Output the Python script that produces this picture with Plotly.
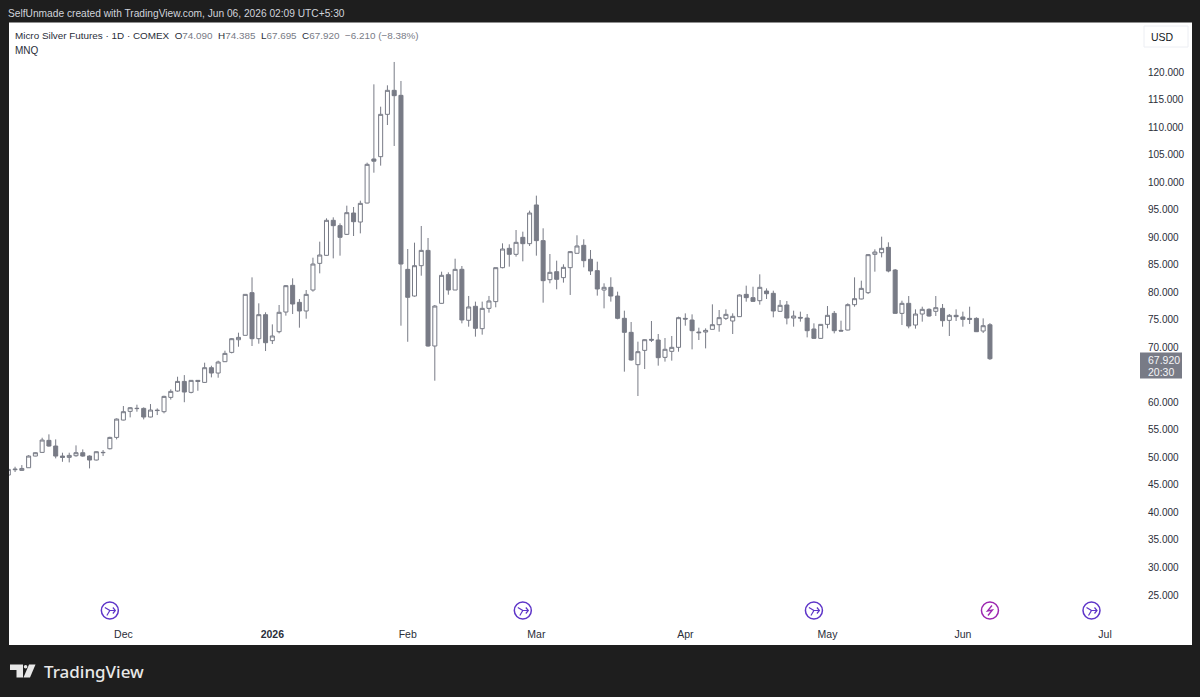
import plotly.graph_objects as go

opens = [46.79, 47.76, 47.64, 48.12, 50.24, 50.91, 53.09, 52.06, 50.24, 50.00, 50.30, 50.85, 50.24, 49.52, 50.85,
         51.57, 53.63, 56.78, 58.36, 58.86, 58.90, 57.33, 58.50, 58.30, 60.90, 62.05, 63.80, 61.81, 63.99, 63.62,
         66.29, 65.32, 67.38, 69.07, 71.37, 72.17, 79.92, 71.56, 75.92, 71.20, 72.83, 76.40, 81.25, 78.16, 76.59,
         80.40, 85.24, 86.70, 93.06, 92.09, 90.51, 94.39, 92.75, 96.20, 104.20, 104.62, 112.31, 116.67, 115.76, 84.15,
         79.31, 84.82, 87.60, 70.23, 77.98, 83.19, 80.40, 84.16, 74.90, 77.44, 73.38, 77.07, 78.29, 84.46, 87.97,
         86.88, 89.97, 88.82, 95.85, 89.37, 82.28, 83.73, 82.65, 84.46, 87.07, 88.52, 85.98, 83.92, 80.40, 80.89,
         79.31, 75.26, 72.71, 66.84, 69.44, 71.44, 71.32, 68.17, 69.26, 69.99, 75.25, 74.95, 72.77, 72.77, 73.26,
         74.10, 75.25, 74.77, 75.56, 79.61, 79.01, 78.46, 80.22, 79.80, 76.53, 77.68, 75.31, 75.43, 75.31, 73.32,
         71.62, 74.16, 76.16, 73.07, 73.13, 77.74, 78.77, 79.92, 86.88, 87.18, 88.15, 84.03, 76.16, 77.98, 74.04,
         76.04, 76.89, 76.53, 77.07, 74.89, 75.80, 75.50, 75.25, 75.25, 72.95, 74.09]
highs = [48.00, 48.30, 48.60, 50.40, 50.90, 53.57, 54.18, 53.27, 50.85, 50.85, 52.18, 51.45, 50.36, 51.09, 51.33,
         53.75, 57.08, 59.33, 59.14, 59.57, 59.08, 59.69, 58.90, 61.20, 62.35, 64.65, 64.95, 64.05, 64.05, 67.20,
         66.65, 67.56, 69.38, 71.68, 72.65, 79.61, 82.70, 77.98, 76.35, 74.16, 77.68, 81.31, 82.52, 78.77, 80.40,
         86.27, 89.18, 93.42, 93.60, 92.51, 95.72, 95.48, 96.63, 103.53, 117.76, 113.70, 117.58, 121.82, 118.37, 87.85,
         89.00, 92.03, 89.85, 77.68, 83.73, 83.61, 86.09, 84.76, 79.32, 78.29, 78.29, 79.32, 84.46, 88.88, 88.70,
         91.30, 91.00, 94.82, 97.54, 91.61, 86.94, 85.73, 85.07, 87.49, 90.34, 89.61, 87.67, 85.55, 81.62, 82.71,
         80.10, 76.65, 74.59, 71.02, 71.44, 74.77, 72.41, 71.68, 72.05, 75.56, 76.16, 75.98, 73.56, 73.44, 77.80,
         76.77, 76.89, 76.16, 79.61, 81.19, 81.00, 83.25, 80.70, 80.28, 78.58, 78.40, 76.65, 76.47, 76.04, 74.35,
         74.16, 77.49, 76.59, 74.83, 77.98, 82.70, 82.10, 86.94, 87.79, 90.09, 89.06, 84.22, 78.46, 79.31, 76.89,
         77.37, 77.07, 79.31, 77.86, 76.04, 76.89, 76.47, 77.37, 75.44, 75.25, 74.385]
lows = [46.50, 47.34, 47.60, 48.10, 50.20, 50.85, 51.94, 49.82, 49.20, 49.09, 50.12, 50.12, 48.00, 49.45, 50.24,
        51.45, 53.27, 56.72, 57.27, 58.30, 56.90, 57.27, 57.69, 58.00, 60.50, 61.93, 60.02, 61.63, 62.10, 63.56,
        64.53, 64.47, 67.32, 68.89, 70.10, 72.17, 70.23, 70.65, 69.32, 70.59, 72.53, 75.74, 76.04, 73.56, 75.19,
        80.10, 83.43, 86.64, 86.15, 86.64, 90.39, 90.21, 90.69, 96.14, 101.71, 102.99, 110.37, 106.56, 73.92, 71.00,
        79.19, 83.00, 70.11, 63.93, 77.92, 79.55, 80.40, 74.35, 73.74, 71.93, 72.29, 76.29, 77.26, 84.34, 84.64,
        86.46, 85.61, 88.40, 86.64, 78.10, 81.62, 80.53, 81.74, 79.50, 87.07, 84.52, 83.13, 79.38, 77.07, 78.29,
        75.08, 65.57, 67.57, 61.15, 66.05, 70.96, 66.66, 67.39, 67.57, 69.20, 73.92, 69.62, 71.32, 69.80, 73.26,
        72.83, 74.95, 72.41, 75.56, 78.28, 78.22, 77.74, 78.77, 75.44, 76.47, 74.16, 73.74, 74.65, 71.80, 71.50,
        71.56, 73.44, 72.53, 72.89, 73.07, 77.37, 78.71, 79.67, 83.73, 86.33, 83.61, 76.10, 74.04, 73.44, 73.38,
        74.65, 75.56, 75.68, 73.74, 72.05, 74.77, 73.74, 74.22, 72.77, 72.59, 67.695]
closes = [47.82, 47.85, 47.99, 50.24, 50.85, 53.15, 52.06, 50.24, 50.00, 50.36, 50.85, 50.24, 49.52, 51.03, 50.90,
          53.63, 56.96, 58.30, 59.02, 58.90, 57.33, 58.60, 58.55, 61.08, 61.99, 63.80, 61.87, 63.99, 63.80, 66.29,
          65.32, 67.32, 68.89, 71.56, 71.80, 79.61, 71.56, 75.92, 70.83, 72.05, 76.35, 81.19, 77.86, 76.59, 79.61,
          85.12, 86.76, 93.06, 92.09, 89.97, 94.45, 92.81, 96.14, 103.23, 103.80, 112.31, 116.67, 115.70, 85.12, 79.07,
          84.82, 87.60, 70.23, 77.49, 83.07, 80.40, 84.15, 74.96, 77.32, 73.44, 77.07, 78.41, 84.46, 87.85, 86.88,
          89.06, 88.82, 94.39, 89.37, 82.10, 83.61, 82.34, 84.52, 87.37, 88.40, 85.73, 83.86, 80.59, 80.89, 79.31,
          75.26, 72.71, 67.69, 69.20, 71.38, 71.30, 68.11, 69.63, 69.99, 75.38, 75.13, 73.01, 72.65, 73.07, 74.10,
          75.38, 75.98, 75.62, 79.49, 79.01, 78.34, 80.89, 79.73, 76.59, 77.62, 75.31, 75.68, 75.31, 73.01, 71.62,
          74.16, 75.80, 73.01, 72.95, 77.74, 78.83, 80.70, 86.82, 87.30, 87.97, 83.85, 76.16, 77.98, 73.86, 76.04,
          76.89, 75.68, 77.19, 74.83, 75.80, 75.56, 75.07, 75.07, 72.83, 73.92, 67.92]
candle_idx = list(range(len(opens)))

month_idx = [17, 39, 59, 78, 100, 121, 141, 162]
month_labels = ["Dec", "<b>2026</b>", "Feb", "Mar", "Apr", "May", "Jun", "Jul"]
# 65.000 is hidden behind the last price tag in the original
price_ticks = [25, 30, 35, 40, 45, 50, 55, 60, 70, 75, 80, 85, 90, 95, 100, 105, 110, 115, 120]
split_idx = [15, 76, 119, 160]
dividend_idx = [145]

W, H = 1200, 697
PANE_L, PANE_R, PANE_T, PANE_B = 9, 1139, 23, 622
GRAY = "#787b86"
DARK = "#1e1e1e"
SPLIT = "#5e35c8"
FONT = "Liberation Sans"


def fx(px):
    return px / W


def fy(py):
    return 1 - py / H


fig = go.Figure(go.Candlestick(
    x=candle_idx, open=opens, high=highs, low=lows, close=closes,
    increasing=dict(line=dict(color=GRAY, width=1), fillcolor="#ffffff"),
    decreasing=dict(line=dict(color=GRAY, width=1), fillcolor=GRAY),
    whiskerwidth=0, hoverinfo="skip", showlegend=False,
))

shapes = [
    # white chart card on the dark page
    dict(type="rect", xref="paper", yref="paper", x0=fx(9), x1=fx(1192), y0=fy(645), y1=fy(22.5),
         fillcolor="#ffffff", line_width=0, layer="below"),
    # USD button
    dict(type="rect", xref="paper", yref="paper", x0=fx(1144), x1=fx(1188), y0=fy(47), y1=fy(26),
         fillcolor="#ffffff", line=dict(color="#eceef3", width=1)),
    # last price tag
    dict(type="rect", xref="paper", yref="paper", x0=fx(1140), x1=fx(1182), y0=fy(378.5), y1=fy(352.5),
         fillcolor=GRAY, line_width=0),
    # logo
    dict(type="path", xref="paper", yref="paper", fillcolor="#e8e8e8", line_width=0,
         path=f"M {fx(10)} {fy(664.5)} L {fx(23)} {fy(664.5)} L {fx(23)} {fy(677.5)} L {fx(16.5)} {fy(677.5)} "
              f"L {fx(16.5)} {fy(670)} L {fx(10)} {fy(670)} Z"),
    dict(type="circle", xref="paper", yref="paper", x0=fx(23.8), x1=fx(27.4), y0=fy(668.6), y1=fy(665),
         fillcolor="#e8e8e8", line_width=0),
    dict(type="path", xref="paper", yref="paper", fillcolor="#e8e8e8", line_width=0,
         path=f"M {fx(29)} {fy(664.5)} L {fx(35.5)} {fy(664.5)} L {fx(30)} {fy(677.5)} L {fx(23.5)} {fy(677.5)} Z"),
]

# event icons sit on the time scale, so they are anchored to candle indexes
for i in split_idx + dividend_idx:
    color = "#9c27b0" if i in dividend_idx else SPLIT
    common = dict(xref="x", xsizemode="pixel", xanchor=i, yref="paper", ysizemode="pixel", yanchor=fy(610.5))
    fig.add_shape(type="circle", x0=-8.5, x1=8.5, y0=-8.5, y1=8.5, line=dict(color=color, width=1.5), **common)
    if i in dividend_idx:
        fig.add_shape(type="path", path="M 2 5 L -2.5 -0.5 L 2.5 0.5 L -2 -5", line=dict(color=color, width=1.3), **common)
    else:
        fig.add_shape(type="path", path="M -5 3 L 0 0 L -3 -5 M 0 0 L 5.5 0 M 3 3 L 5.5 0 L 3 -3",
                      line=dict(color=color, width=1.2), **common)

annotations = [
    dict(x=fx(6), y=fy(13), text="SelfUnmade created with TradingView.com, Jun 06, 2026 02:09 UTC+5:30",
         font=dict(size=10.2, color="#d1d4dc")),
    dict(x=fx(13), y=fy(35.5),
         text=f"Micro Silver Futures · 1D · COMEX  O<span style='color:{GRAY}'>74.090</span>  "
              f"H<span style='color:{GRAY}'>74.385</span>  L<span style='color:{GRAY}'>67.695</span>  "
              f"C<span style='color:{GRAY}'>67.920</span>  <span style='color:{GRAY}'>−6.210 (−8.38%)</span>",
         font=dict(size=9.9, color="#2a2e39")),
    dict(x=fx(13), y=fy(50), text="MNQ", font=dict(size=10, color="#2a2e39")),
    dict(x=fx(1149), y=fy(37), text="USD", font=dict(size=10.5, color="#131722")),
    dict(x=fx(1146), y=fy(360), text="67.920", font=dict(size=10.5, color="#f5f5f7")),
    dict(x=fx(1146), y=fy(372), text="20:30", font=dict(size=10.5, color="#f5f5f7")),
    dict(x=fx(42), y=fy(671), text="TradingView",
         font=dict(family="Noto Sans", size=17, color="#e8e8e8", weight=500)),
]
for a in annotations:
    a.update(xref="paper", yref="paper", xanchor="left", yanchor="middle", showarrow=False, align="left")

idx_per_px = 1 / 6.77
fig.update_layout(
    width=W, height=H, margin=dict(l=0, r=0, t=0, b=0), autosize=False,
    paper_bgcolor=DARK, plot_bgcolor="#ffffff",
    font=dict(family=FONT, size=10, color="#131722"),
    shapes=list(fig.layout.shapes) + shapes, annotations=annotations,
    boxgap=0.15,
    xaxis=dict(domain=[fx(PANE_L), fx(PANE_R)], range=[(PANE_L - 8.3) * idx_per_px, (PANE_R - 8.3) * idx_per_px],
               rangeslider_visible=False, showgrid=False, zeroline=False, showline=False,
               tickmode="array", tickvals=month_idx, ticktext=month_labels, ticks="outside", ticklen=2,
               tickcolor="rgba(0,0,0,0)", tickfont=dict(family=FONT, size=10.5, color="#2a2e39")),
    yaxis=dict(domain=[fy(PANE_B), fy(PANE_T)], range=[20.1, 128.9], side="right", showgrid=False, zeroline=False,
               showline=False, tickmode="array", tickvals=price_ticks, ticktext=[f"{p:.3f}" for p in price_ticks],
               ticks="outside", ticklen=6, tickcolor="rgba(0,0,0,0)", tickfont=dict(family=FONT, size=10, color="#2a2e39")),
)

fig.write_html("out.html", config={"displayModeBar": False},
               post_script="document.body.style.margin='0';document.body.style.background='#1e1e1e';")
